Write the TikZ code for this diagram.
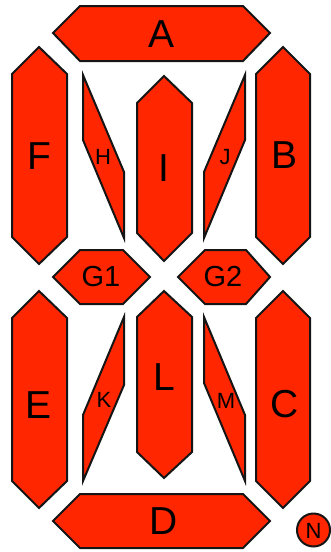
\documentclass[tikz,border=0pt]{standalone}
\usepackage{fontspec}
\setmainfont{Liberation Sans}
\definecolor{segred}{HTML}{FF2600}
\definecolor{segline}{HTML}{151515}
\begin{document}
\begin{tikzpicture}[x=1pt,y=-1pt,
  seg/.style={fill=segred,draw=segline,line width=2pt,line join=miter},
  bigtxt/.style={font=\fontsize{39}{39}\selectfont,inner sep=0pt},
  midtxt/.style={font=\fontsize{29}{29}\selectfont,inner sep=0pt},
  smalltxt/.style={font=\fontsize{22}{22}\selectfont,inner sep=0pt}]
\useasboundingbox (0,0) rectangle (330,552);
% A
\draw[seg] (53,33) -- (80,6) -- (243,6) -- (270,33) -- (243,61) -- (80,61) -- cycle;
\node[bigtxt] (lA) at (162,34) {A};
% F
\draw[seg] (39,47) -- (67,74) -- (67,237) -- (39,264) -- (12,237) -- (12,74) -- cycle;
\node[bigtxt] (lF) at (39,156) {F};
% B
\draw[seg] (283,47) -- (310,74) -- (310,237) -- (283,264) -- (256,237) -- (256,74) -- cycle;
\node[bigtxt] (lB) at (285,155) {B};
% I
\draw[seg] (164,76) -- (192,103) -- (192,233) -- (164,261) -- (137,233) -- (137,103) -- cycle;
\node[bigtxt] (lI) at (164,168) {I};
% H
\draw[seg] (83,75) -- (124,172) -- (124,238) -- (83,140) -- cycle;
\node[smalltxt] (lH) at (103,157) {H};
% J
\draw[seg] (245,75) -- (245,140) -- (204,238) -- (204,172) -- cycle;
\node[smalltxt] (lJ) at (225,157) {J};
% G1
\draw[seg] (53,277) -- (80,250) -- (123,250) -- (150,277) -- (123,304) -- (80,304) -- cycle;
\node[midtxt] (lG1) at (101,277) {G1};
% G2
\draw[seg] (178,277) -- (205,250) -- (246,250) -- (270,277) -- (246,304) -- (205,304) -- cycle;
\node[midtxt] (lG2) at (223,277) {G2};
% E
\draw[seg] (39,291) -- (67,318) -- (67,481) -- (39,508) -- (12,481) -- (12,318) -- cycle;
\node[bigtxt] (lE) at (39,405) {E};
% C
\draw[seg] (283,291) -- (310,318) -- (310,481) -- (283,508) -- (256,481) -- (256,318) -- cycle;
\node[bigtxt] (lC) at (285,404) {C};
% L
\draw[seg] (164,291) -- (192,317) -- (192,452) -- (164,478) -- (137,452) -- (137,317) -- cycle;
\node[bigtxt] (lL) at (164,377) {L};
% K
\draw[seg] (124,317) -- (124,385) -- (83,481) -- (83,415) -- cycle;
\node[smalltxt] (lK) at (104,400) {K};
% M
\draw[seg] (204,317) -- (245,415) -- (245,481) -- (204,383) -- cycle;
\node[smalltxt] (lM) at (226,401) {M};
% D
\draw[seg] (53,521) -- (80,494) -- (243,494) -- (270,521) -- (243,548) -- (80,548) -- cycle;
\node[bigtxt] (lD) at (164,521) {D};
% N
\draw[seg] (313.5,530) circle[radius=16.5];
\node[smalltxt] (lN) at (313.5,531) {N};
\end{tikzpicture}
\end{document}
